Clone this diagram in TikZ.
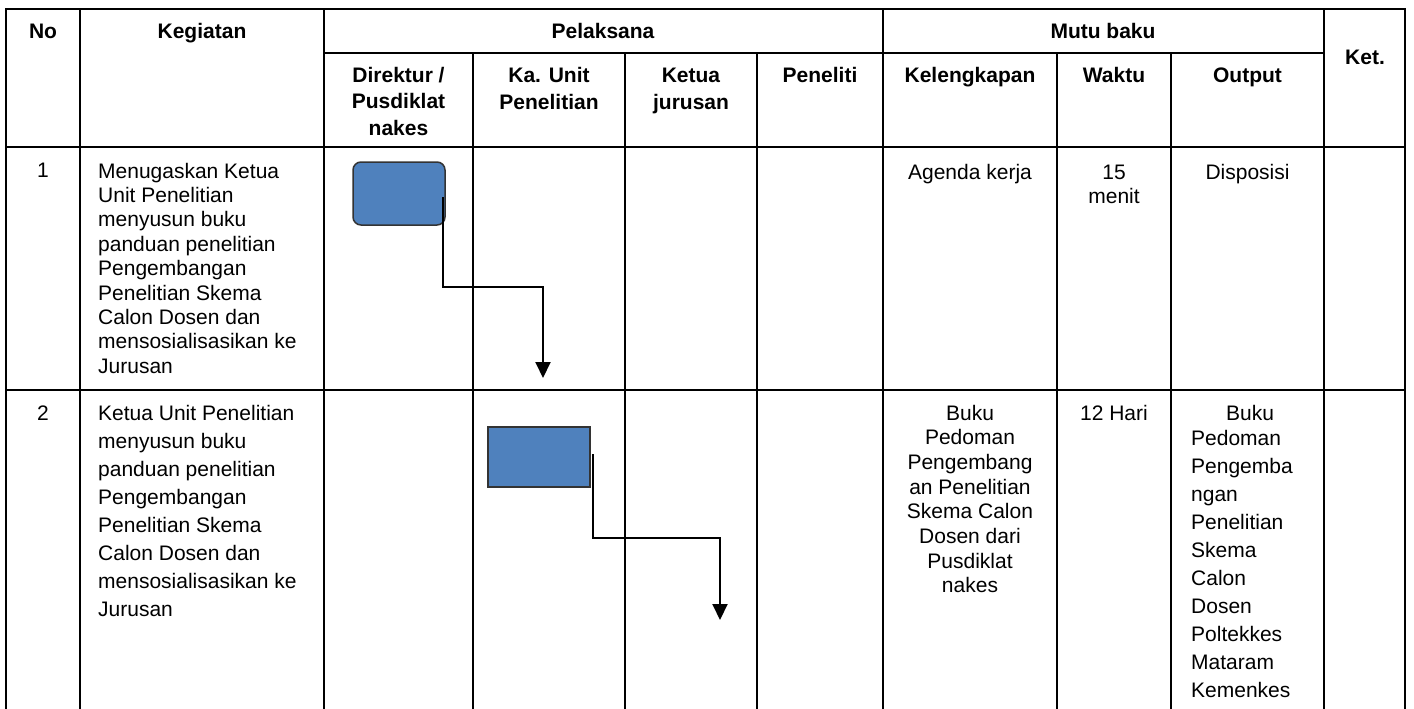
\documentclass[tikz,border=0pt]{standalone}
\usepackage{fontspec}
\setmainfont{Liberation Sans}
\usetikzlibrary{arrows.meta}
\definecolor{procblue}{HTML}{4F81BD}
\newcommand{\Lbox}[2]{\parbox[t]{240pt}{\raggedright\fontsize{21pt}{#1}\selectfont #2}}
\newcommand{\Cbox}[3]{\parbox[t]{#1}{\centering\fontsize{21pt}{#2}\selectfont #3}}
\begin{document}
\begin{tikzpicture}[x=1pt,y=-1pt,
  gridline/.style={line width=2pt, line cap=rect},
  txt/.style={inner sep=0pt, anchor=base west, font=\fontsize{21pt}{24.4pt}\selectfont},
  ctxt/.style={inner sep=0pt, anchor=base, font=\fontsize{21pt}{24.4pt}\selectfont},
  hdr/.style={inner sep=0pt, anchor=base, font=\fontsize{21pt}{26.5pt}\selectfont\bfseries, align=center},
  proc/.style={fill=procblue, draw=black!80, line width=1.5pt, inner sep=0pt},
  arr/.style={line width=2pt, -{Triangle[length=16pt,width=15pt]}}]
\useasboundingbox (0,0) rectangle (1414,709);
% grid
\draw[gridline] (6,9) -- (1405,9);
\draw[gridline] (324,53) -- (1324,53);
\draw[gridline] (6,147) -- (1405,147);
\draw[gridline] (6,390) -- (1405,390);
\foreach \x in {6,80,324,883,1324,1405} \draw[gridline] (\x,9) -- (\x,712);
\foreach \x in {473,625,757,1057,1171} \draw[gridline] (\x,53) -- (\x,712);
% headers
\node[hdr] (hNo) at (43,39) {No};
\node[hdr] (hKeg) at (202,39) {Kegiatan};
\node[hdr] (hPel) at (603,39) {Pelaksana};
\node[hdr] (hMutu) at (1103,39) {Mutu baku};
\node[hdr] (hKet) at (1365,65) {Ket.};
\node[hdr] (hDir) at (398.5,82) {\Cbox{140pt}{26.5pt}{\bfseries Direktur /\\Pusdiklat\\nakes}};
\node[hdr] (hKa) at (549,83) {\Cbox{140pt}{26.5pt}{\bfseries Ka. Unit\\Penelitian}};
\node[hdr] (hKetua) at (691,83) {\Cbox{120pt}{26.5pt}{\bfseries Ketua\\jurusan}};
\node[hdr] (hPen) at (820,83) {Peneliti};
\node[hdr] (hKel) at (970,83) {Kelengkapan};
\node[hdr] (hWak) at (1114,83) {Waktu};
\node[hdr] (hOut) at (1247.5,83) {Output};
% row 1
\node[ctxt] (n1) at (43,177) {1};
\node[txt] (k1) at (98,178) {\Lbox{24.4pt}{Menugaskan Ketua\\Unit Penelitian\\menyusun buku\\panduan penelitian\\Pengembangan\\Penelitian Skema\\Calon Dosen dan\\mensosialisasikan ke\\Jurusan}};
\node[ctxt] (kel1) at (970,179) {Agenda kerja};
\node[ctxt] (w1) at (1114,179) {\Cbox{110pt}{24.5pt}{15\\menit}};
\node[ctxt] (o1) at (1247.5,179) {Disposisi};
% row 2
\node[ctxt] (n2) at (43,420) {2};
\node[txt] (k2) at (98,420) {\Lbox{28pt}{Ketua Unit Penelitian\\menyusun buku\\panduan penelitian\\Pengembangan\\Penelitian Skema\\Calon Dosen dan\\mensosialisasikan ke\\Jurusan}};
\node[ctxt] (kel2) at (970,420) {\Cbox{170pt}{24.7pt}{Buku\\Pedoman\\Pengembang\\an Penelitian\\Skema Calon\\Dosen dari\\Pusdiklat\\nakes}};
\node[ctxt] (w2) at (1114,420) {12 Hari};
\node[ctxt] (o2a) at (1250,420) {Buku};
\node[txt] (o2b) at (1191,445) {\Lbox{28pt}{Pedoman\\Pengemba\\ngan\\Penelitian\\Skema\\Calon\\Dosen\\Poltekkes\\Mataram\\Kemenkes}};
% process boxes
\node[proc, rounded corners=8pt, minimum width=92pt, minimum height=63pt] (b1) at (399,193.5) {};
\node[proc, minimum width=102pt, minimum height=60pt] (b2) at (539,457) {};
% connectors
\coordinate (e1) at (543,378);
\coordinate (e2) at (720,620);
\draw[arr] ([xshift=-3pt,yshift=-3.5pt]b1.east) -- ++(0,90) -| (e1);
\draw[arr] ([xshift=2pt,yshift=3pt]b2.east) -- ++(0,84) -| (e2);
\end{tikzpicture}
\end{document}
